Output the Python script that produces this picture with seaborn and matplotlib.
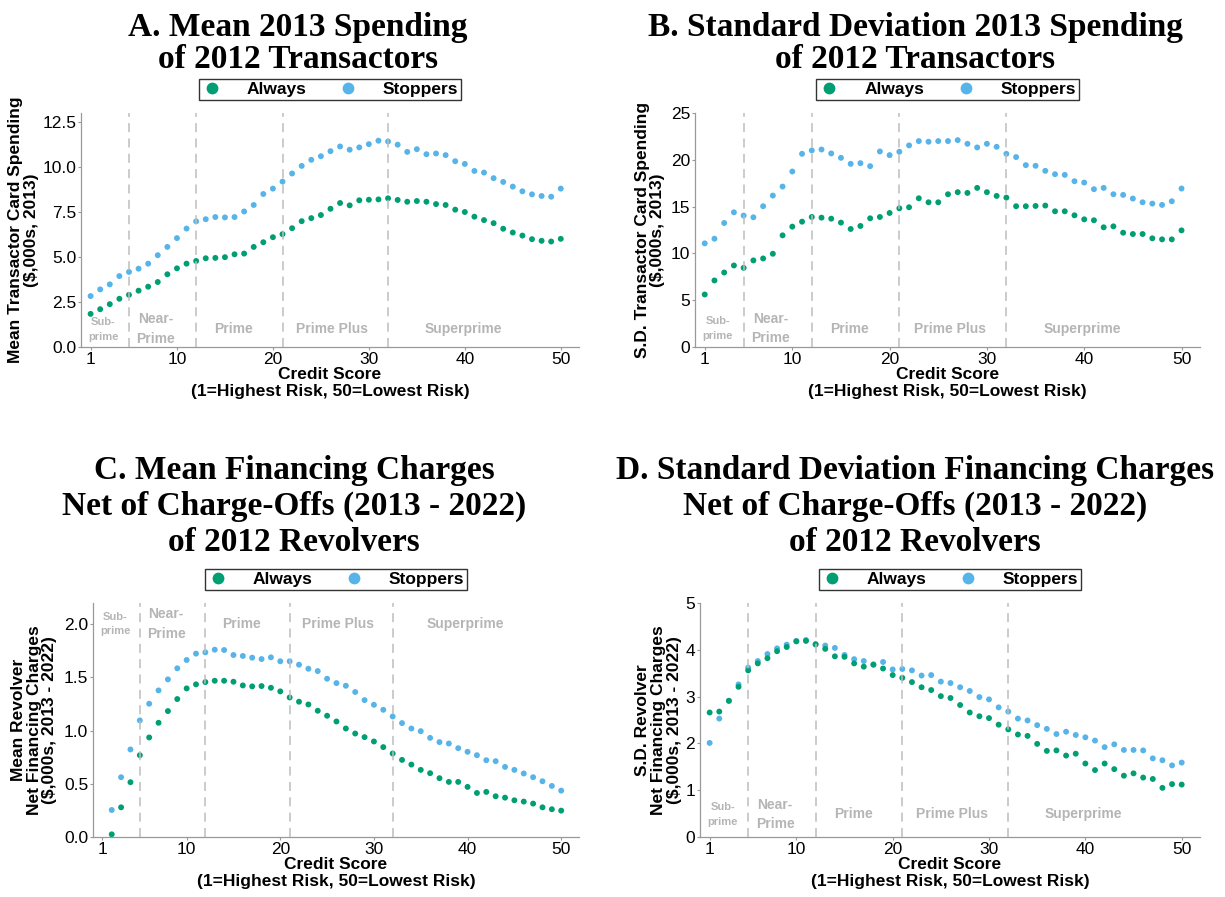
import numpy as np
import pandas as pd
import matplotlib
matplotlib.use("Agg")
import matplotlib.pyplot as plt
import seaborn as sns

# Credit score bins
score = list(range(1, 51))
score_rev = list(range(2, 51))

# A. Mean 2013 spending of 2012 transactors ($,000s)
a_always = [1.84, 2.10, 2.38, 2.68, 2.90, 3.13, 3.35, 3.61, 4.04, 4.37,
            4.63, 4.78, 4.93, 4.95, 4.99, 5.15, 5.19, 5.56, 5.82, 6.10,
            6.27, 6.60, 6.99, 7.16, 7.33, 7.68, 8.00, 7.87, 8.15, 8.18,
            8.20, 8.26, 8.17, 8.07, 8.11, 8.07, 7.94, 7.89, 7.63, 7.50,
            7.24, 7.05, 6.88, 6.57, 6.36, 6.19, 5.99, 5.90, 5.86, 6.01]
a_stoppers = [2.83, 3.20, 3.48, 3.94, 4.17, 4.35, 4.63, 5.10, 5.56, 6.05,
              6.58, 6.98, 7.10, 7.22, 7.20, 7.22, 7.53, 7.89, 8.50, 8.80,
              9.19, 9.64, 10.06, 10.40, 10.60, 10.88, 11.14, 10.96, 11.09, 11.27,
              11.46, 11.42, 11.24, 10.84, 10.99, 10.71, 10.75, 10.66, 10.32, 10.17,
              9.78, 9.69, 9.38, 9.17, 8.91, 8.65, 8.48, 8.39, 8.35, 8.80]

# B. Standard deviation of 2013 spending of 2012 transactors
b_always = [5.61, 7.11, 7.96, 8.71, 8.46, 9.25, 9.46, 9.96, 11.93, 12.86,
            13.39, 13.89, 13.82, 13.71, 13.29, 12.61, 12.93, 13.75, 13.89, 14.32,
            14.82, 14.93, 15.89, 15.46, 15.46, 16.32, 16.54, 16.46, 17.00, 16.54,
            16.14, 15.96, 15.04, 15.04, 15.07, 15.11, 14.50, 14.50, 14.07, 13.64,
            13.54, 12.79, 12.89, 12.21, 12.07, 12.07, 11.61, 11.50, 11.50, 12.46]
b_stoppers = [11.07, 11.57, 13.25, 14.39, 14.04, 13.86, 15.04, 16.18, 17.14, 18.75,
              20.64, 21.00, 21.10, 20.68, 20.21, 19.57, 19.64, 19.32, 20.89, 20.50,
              20.86, 21.54, 22.00, 21.93, 22.00, 22.00, 22.10, 21.71, 21.32, 21.71,
              21.39, 20.64, 20.29, 19.43, 19.36, 18.82, 18.46, 18.39, 17.71, 17.57,
              16.86, 17.00, 16.32, 16.25, 15.86, 15.46, 15.32, 15.18, 15.57, 16.93]

# C. Mean financing charges net of charge-offs (2013-2022) of 2012 revolvers
c_always = [0.025, 0.279, 0.515, 0.769, 0.936, 1.074, 1.184, 1.297, 1.397,
            1.435, 1.457, 1.469, 1.469, 1.460, 1.425, 1.416, 1.419, 1.403, 1.369,
            1.312, 1.272, 1.246, 1.187, 1.140, 1.086, 1.020, 0.973, 0.939, 0.898,
            0.845, 0.785, 0.725, 0.681, 0.631, 0.600, 0.553, 0.518, 0.518, 0.471,
            0.414, 0.424, 0.383, 0.370, 0.345, 0.333, 0.314, 0.279, 0.261, 0.248]
c_stoppers = [0.254, 0.562, 0.823, 1.096, 1.253, 1.378, 1.482, 1.586, 1.664,
              1.724, 1.736, 1.761, 1.758, 1.711, 1.702, 1.686, 1.673, 1.689, 1.652,
              1.652, 1.620, 1.582, 1.560, 1.488, 1.447, 1.422, 1.363, 1.287, 1.243,
              1.196, 1.133, 1.071, 1.020, 0.995, 0.932, 0.892, 0.879, 0.835, 0.801,
              0.769, 0.722, 0.713, 0.659, 0.631, 0.597, 0.562, 0.524, 0.480, 0.436]

# D. Standard deviation of financing charges net of charge-offs
d_always = [2.66, 2.68, 2.91, 3.21, 3.56, 3.71, 3.82, 3.97, 4.06, 4.18,
            4.19, 4.12, 4.02, 3.86, 3.85, 3.71, 3.64, 3.68, 3.60, 3.46,
            3.40, 3.31, 3.20, 3.14, 3.01, 2.97, 2.82, 2.66, 2.58, 2.54,
            2.40, 2.30, 2.19, 2.16, 1.99, 1.84, 1.85, 1.74, 1.78, 1.57,
            1.43, 1.57, 1.45, 1.31, 1.36, 1.27, 1.24, 1.05, 1.13, 1.12]
d_stoppers = [2.01, 2.53, 2.91, 3.26, 3.62, 3.76, 3.91, 4.03, 4.11, 4.19,
              4.21, 4.11, 4.09, 4.04, 3.89, 3.80, 3.76, 3.69, 3.74, 3.58,
              3.59, 3.56, 3.45, 3.46, 3.32, 3.29, 3.20, 3.12, 2.99, 2.94,
              2.77, 2.68, 2.53, 2.49, 2.39, 2.31, 2.20, 2.25, 2.18, 2.13,
              2.06, 1.92, 1.98, 1.86, 1.86, 1.85, 1.68, 1.64, 1.53, 1.59]

groups = ["Always", "Stoppers"]
palette = {"Always": "#009E73", "Stoppers": "#56B4E9"}
x_ticks = [1, 10, 20, 30, 40, 50]
cutoffs = [5, 12, 21, 32]

titles = [
    "A. Mean 2013 Spending\nof 2012 Transactors",
    "B. Standard Deviation 2013 Spending\nof 2012 Transactors",
    "C. Mean Financing Charges\nNet of Charge-Offs (2013 - 2022)\nof 2012 Revolvers",
    "D. Standard Deviation Financing Charges\nNet of Charge-Offs (2013 - 2022)\nof 2012 Revolvers",
]
ylabels = [
    "Mean Transactor Card Spending\n($,000s, 2013)",
    "S.D. Transactor Card Spending\n($,000s, 2013)",
    "Mean Revolver\nNet Financing Charges\n($,000s, 2013 - 2022)",
    "S.D. Revolver\nNet Financing Charges\n($,000s, 2013 - 2022)",
]
xlabel = "Credit Score\n(1=Highest Risk, 50=Lowest Risk)"

sns.set_theme(style="white")
plt.rcParams["font.family"] = ["Liberation Sans", "DejaVu Sans"]
plt.rcParams["text.color"] = "black"
plt.rcParams["axes.labelcolor"] = "black"

fig = plt.figure(figsize=(12.25, 8.97), dpi=100)
W, H = 1225.0, 897.0


def axes_at(x0, y0, x1, y1):
    return fig.add_axes([x0 / W, 1 - y1 / H, (x1 - x0) / W, (y1 - y0) / H])


panels = [
    dict(box=(81, 113, 579, 347), x=score, al=a_always, st=a_stoppers,
         ylim=(0, 13), yticks=[0, 2.5, 5, 7.5, 10, 12.5], fmt="{:.1f}",
         ylab_x=-0.115, reg_y=0.076),
    dict(box=(695, 113, 1200, 347), x=score, al=b_always, st=b_stoppers,
         ylim=(0, 25), yticks=[0, 5, 10, 15, 20, 25], fmt="{:.0f}",
         ylab_x=-0.089, reg_y=0.079),
    dict(box=(93, 603, 579, 837), x=score_rev, al=c_always, st=c_stoppers,
         ylim=(0, 2.2), yticks=[0, 0.5, 1.0, 1.5, 2.0], fmt="{:.1f}",
         ylab_x=-0.121, reg_y=0.91),
    dict(box=(700, 603, 1200, 837), x=score, al=d_always, st=d_stoppers,
         ylim=(0, 5), yticks=[0, 1, 2, 3, 4, 5], fmt="{:.0f}",
         ylab_x=-0.083, reg_y=0.097),
]

region_grey = "#b5b5b5"

for i, p in enumerate(panels):
    ax = axes_at(*p["box"])
    df = pd.concat([
        pd.DataFrame({"score": p["x"], "value": p["st"], "group": "Stoppers"}),
        pd.DataFrame({"score": p["x"], "value": p["al"], "group": "Always"}),
    ], ignore_index=True)
    sns.scatterplot(data=df, x="score", y="value", hue="group",
                    hue_order=groups, palette=palette, s=18, linewidth=0,
                    ax=ax, zorder=2)

    for c in cutoffs:
        ax.axvline(c, color="#bdbdbd", lw=1.3, ls=(0, (5, 3.5)), zorder=3,
                   alpha=0.85)

    ax.set_xlim(0, 51.9)
    ax.set_ylim(*p["ylim"])
    ax.set_xticks(x_ticks)
    ax.set_yticks(p["yticks"])
    ax.set_yticklabels([p["fmt"].format(v) for v in p["yticks"]])
    ax.tick_params(axis="both", labelsize=12.5, length=2.5, width=0.8,
                   color="#999999", pad=1, labelcolor="black",
                   bottom=True, left=True)
    for side in ["top", "right"]:
        ax.spines[side].set_visible(False)
    for side in ["left", "bottom"]:
        ax.spines[side].set_color("#999999")
        ax.spines[side].set_linewidth(0.9)
    ax.grid(False)
    ax.set_xlabel("")
    ax.set_ylabel("")

    ax.text(0.5, -0.085, xlabel, transform=ax.transAxes, ha="center",
            va="top", fontsize=12.5, fontweight="bold", linespacing=1.15)
    ax.text(p["ylab_x"], 0.5, ylabels[i],
            transform=ax.transAxes, rotation=90, ha="center", va="center",
            fontsize=12.5, fontweight="bold", linespacing=1.05,
            multialignment="center")

    # credit tier labels
    tr = ax.get_xaxis_transform()
    ry = p["reg_y"]
    ax.text(2.35, ry, "Sub-\nprime", transform=tr, ha="center", va="center",
            fontsize=8, fontweight="bold", color=region_grey, linespacing=1.6)
    ax.text(7.8, ry, "Near-\nPrime", transform=tr, ha="center", va="center",
            fontsize=10, fontweight="bold", color=region_grey, linespacing=1.5)
    for xpos, lab in [(15.9, "Prime"), (26.2, "Prime Plus"), (39.8, "Superprime")]:
        ax.text(xpos, ry, lab, transform=tr, ha="center", va="center",
                fontsize=10, fontweight="bold", color=region_grey)

    handles, labels = ax.get_legend_handles_labels()
    leg = ax.legend(handles, labels, loc="lower center",
                    bbox_to_anchor=(0.5, 1.02), ncol=2, frameon=True,
                    fancybox=False, edgecolor="black", markerscale=2.0,
                    handletextpad=1.4, columnspacing=1.8, borderpad=0.15,
                    handlelength=1.2, prop={"weight": "bold", "size": 12.5})
    leg.get_frame().set_linewidth(1.0)

# panel titles
title_specs = [(298, 12, 1.05), (915, 12, 1.05), (294, 455, 1.2), (915, 455, 1.2)]
for (tx, ty, ls), t in zip(title_specs, titles):
    fig.text(tx / W, 1 - ty / H, t, ha="center", va="top",
             fontsize=24, fontweight="bold", family=["Liberation Serif"],
             linespacing=ls, color="black")

fig.savefig("out.png", dpi=100)
